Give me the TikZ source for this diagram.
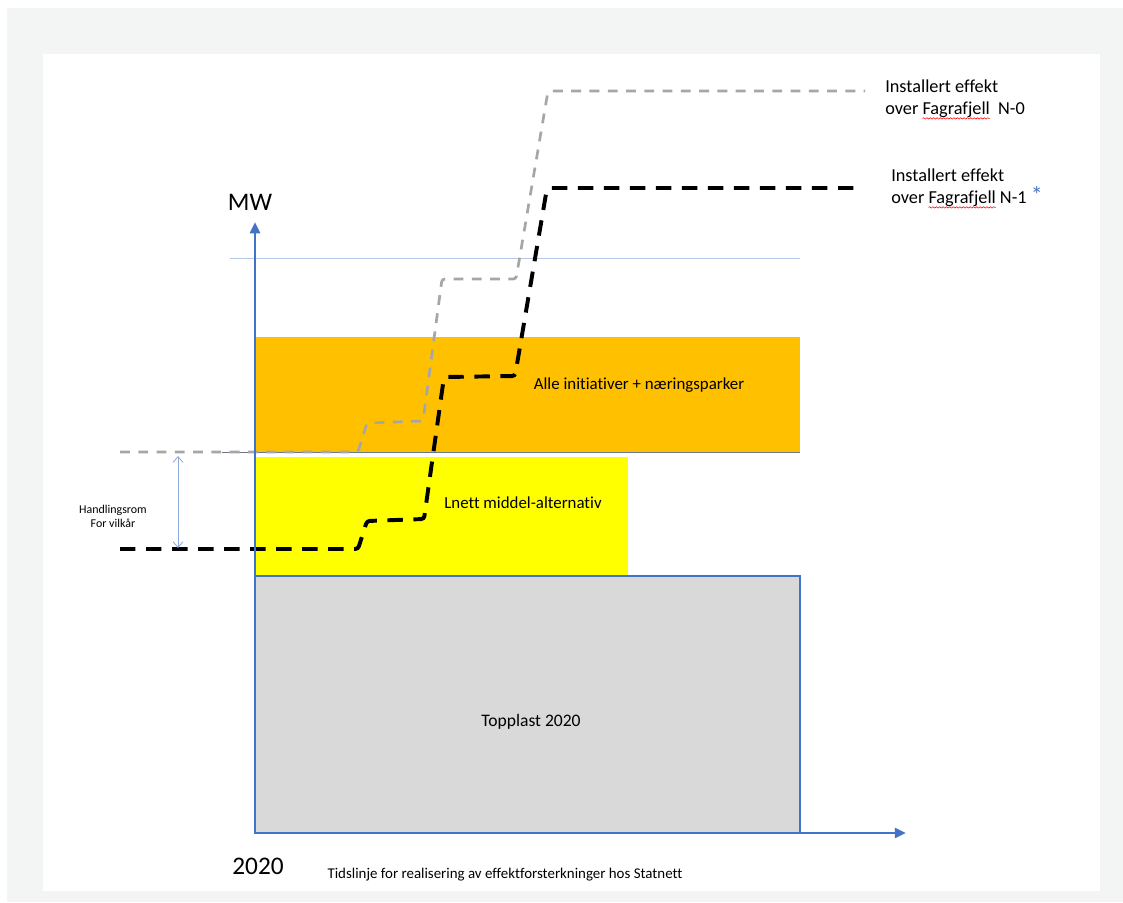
\documentclass[tikz,border=0pt]{standalone}
\usepackage{fontspec}
\setmainfont{Carlito}[RawFeature = {-liga;-clig;-dlig}]
\usetikzlibrary{arrows.meta,positioning,decorations.pathmorphing}
\definecolor{axisblue}{HTML}{4472C4}
\definecolor{gridblue}{HTML}{B4C7E7}
\definecolor{roomblue}{HTML}{8FAADC}
\definecolor{levelgray}{HTML}{6A768A}
\definecolor{loadgray}{HTML}{D9D9D9}
\definecolor{initorange}{HTML}{FFC000}
\definecolor{lnettyellow}{HTML}{FFFF00}
\definecolor{dashgray}{HTML}{A6A6A6}
\definecolor{panelgray}{HTML}{F3F4F4}
\newlength{\spellwd}
\newcommand{\spellmark}[1]{\settowidth{\spellwd}{#1}\rlap{\tikz[overlay, baseline = 0pt, x = 1pt, y = 1pt] \draw [ red, line width = 0.4pt, decorate, decoration = { snake, amplitude = 0.5pt, segment length = 2.4pt } ] (0pt,-2.6pt) -- (\spellwd,-2.6pt);}#1}
\begin{document}
\begin{tikzpicture}[ x = 0.025cm, y = -0.025cm,
    txt/.style = { inner sep = 0pt, text = black },
    axisline/.style = { axisblue, line width = 2pt, -{Triangle[length = 8pt, width = 7pt]} },
    nZeroline/.style = { dashgray, line width = 1.9pt, dash pattern = on 7pt off 6pt, rounded corners = 2pt },
    nOneline/.style = { black, line width = 2.8pt, dash pattern = on 11pt off 7.5pt, rounded corners = 2pt } ]
            \useasboundingbox (0,0) rectangle (1123,902);
            \fill [ panelgray ] (7,8) rectangle (1123,902);
            \fill [ white ] (43,54) rectangle (1100,891);
            \coordinate (cOrigin) at (255,833);
            \coordinate (cYTop) at (255,222);
            \coordinate (cXEnd) at (906,833);
            \fill [ initorange ] (255,337) rectangle (800,452);
            \fill [ lnettyellow ] (255,457) rectangle (628,576);
            \filldraw [ fill = loadgray, draw = axisblue, line width = 0.8pt ] (255,576) rectangle (800,833);
            \draw [ gridblue, line width = 0.6pt ] (230,258) -- (800,258);
            \draw [ levelgray, line width = 0.5pt ] (222,452) -- (800,452);
            \draw [ nZeroline ] (120,452) coordinate (cNZeroStart) -- (358,452) -- (367,423) -- (423,421) -- (442,279) -- (516,279) -- (548,91) -- (865,91) coordinate (cNZeroEnd);
            \draw [ nOneline ] (120,549) coordinate (cNOneStart) -- (358,549) -- (367,521) -- (424,519) -- (444,377) -- (515,376) -- (547,188) -- (860,188) coordinate (cNOneEnd);
            \draw [ axisline ] (cOrigin) -- (cYTop);
            \draw [ axisline ] (cOrigin) -- (cXEnd);
            \coordinate (cRoomTop) at (178,456);
            \coordinate (cRoomBot) at (178,548);
            \draw [ roomblue, line width = 0.6pt, {Straight Barb[length = 4pt, width = 7pt]}-{Straight Barb[length = 4pt, width = 7pt]} ] (cRoomTop) -- (cRoomBot);
            \node (nMW) [ txt, font = \fontsize{18}{20}\selectfont ] at (250,202) {MW};
            \node (nYear) [ txt, font = \fontsize{18}{20}\selectfont ] at (258,866) {2020};
            \node (nTimeline) [ txt, anchor = base, font = \fontsize{10.6}{12}\selectfont ] at (505,878) {Tidslinje for realisering av effektforsterkninger hos Statnett};
            \node (nTopplast) [ txt, font = \fontsize{12.5}{15}\selectfont ] at (531,722) {Topplast 2020};
            \node (nLnett) [ txt, font = \fontsize{12}{14}\selectfont ] at (523,503) {Lnett middel-alternativ};
            \node (nAlle) [ txt, font = \fontsize{12}{14}\selectfont ] at (639,385) {Alle initiativer + næringsparker};
            \node (nRoom) [ txt, align = center, font = \fontsize{8.5}{10}\selectfont ] at (113,516) {Handlingsrom\\For vilkår};
            \node (nNZero) [ txt, anchor = west, align = left, font = \fontsize{13}{15.6}\selectfont ] at (885,99) {Installert effekt\\over \spellmark{Fagrafjell}\ \ N-0};
            \node (nNOne) [ txt, anchor = west, align = left, font = \fontsize{13}{15.6}\selectfont ] at (891,188) {Installert effekt\\over \spellmark{Fagrafjell} N-1 {\fontsize{17}{15.6}\selectfont\textcolor{axisblue}{*}}};
        \end{tikzpicture}
\end{document}
